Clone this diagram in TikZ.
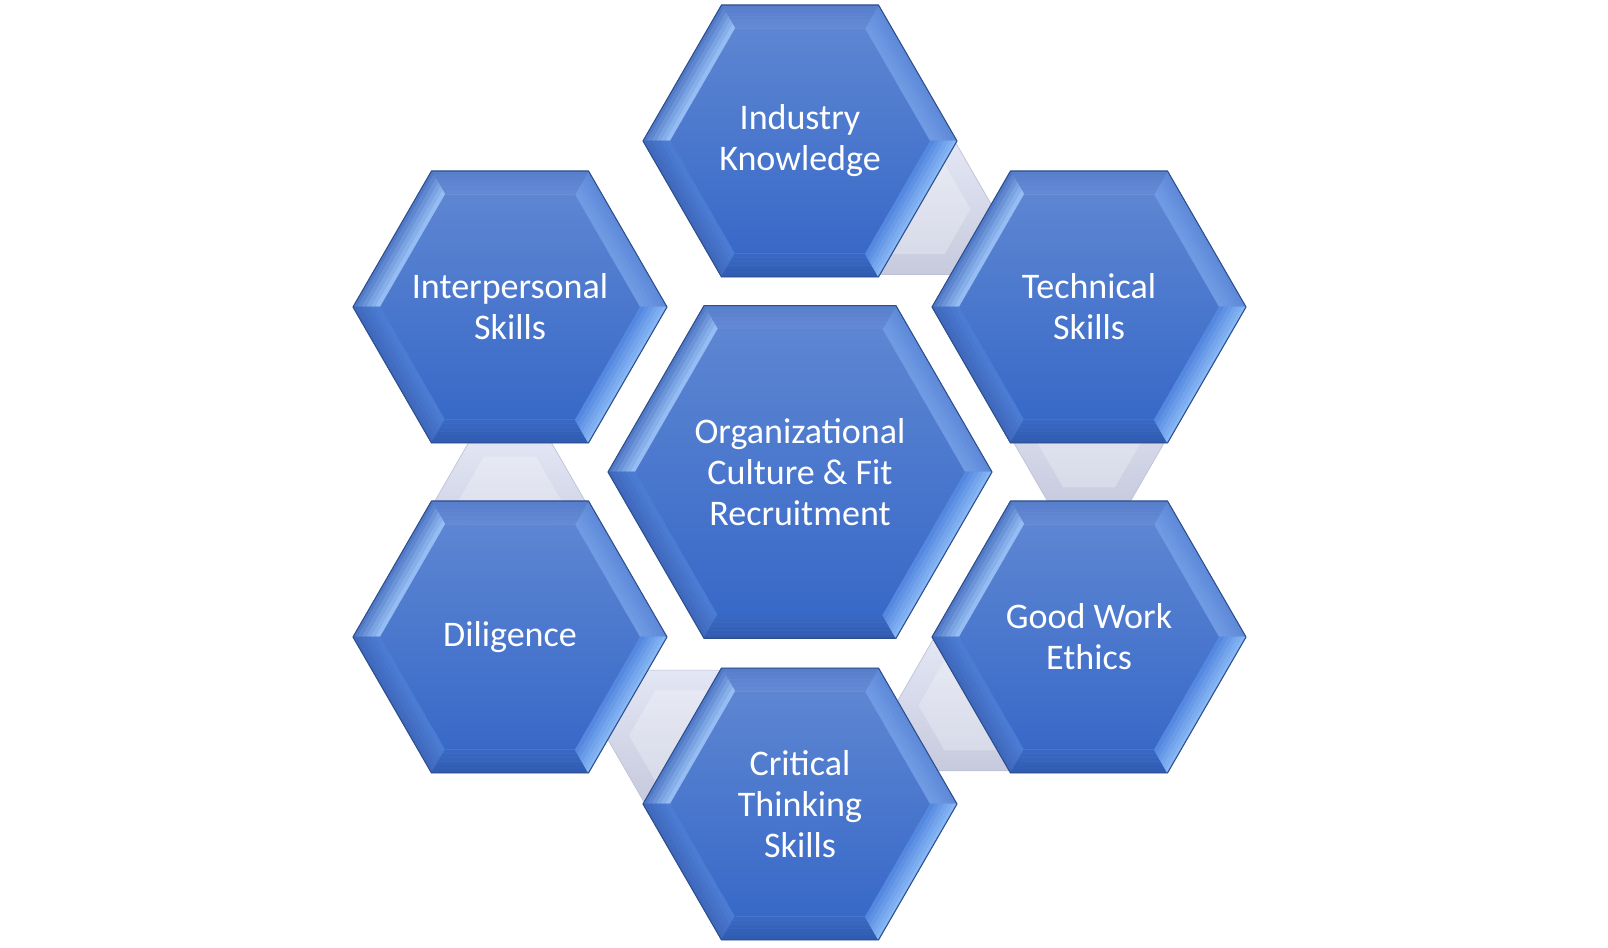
\documentclass[tikz,border=0pt]{standalone}
\usepackage{fontspec}
\setmainfont{Carlito}
\usetikzlibrary{calc}

%bevel colours, outer and inner edge of each facet
\definecolor{urOut}{HTML}{5C88D8}
\definecolor{urIn}{HTML}{729CE4}
\definecolor{tpOut}{HTML}{577ECB}
\definecolor{tpIn}{HTML}{6489D5}
\definecolor{ulOut}{HTML}{4A73C3}
\definecolor{ulIn}{HTML}{9CC4F8}
\definecolor{llOut}{HTML}{3D67BA}
\definecolor{llIn}{HTML}{4D7DD6}
\definecolor{btOut}{HTML}{2F5BB0}
\definecolor{btIn}{HTML}{3A69C4}
\definecolor{lrOut}{HTML}{8CBBF7}
\definecolor{lrIn}{HTML}{5084DE}
\definecolor{faceTop}{HTML}{5D86D2}
\definecolor{faceBot}{HTML}{3869C8}
\definecolor{hexEdge}{HTML}{2E4E8C}
\definecolor{linkTop}{HTML}{E3E6F4}
\definecolor{linkBot}{HTML}{C6CADD}
\definecolor{linkEdge}{HTML}{BEC2D5}

%bevelled hexagon: centre name, radius, text
\newcommand{\bevelhex}[3]{%
  \foreach \a/\oc/\ic in {0/urOut/urIn,60/tpOut/tpIn,120/ulOut/ulIn,180/llOut/llIn,240/btOut/btIn,300/lrOut/lrIn}
    \foreach \k in {0,...,5}
      {
      \pgfmathsetmacro{\ta}{\k/6}
      \pgfmathsetmacro{\tb}{(\k+1)/6}
      \pgfmathtruncatemacro{\pc}{100-(\k+0.5)*100/6}
      \colorlet{strip}{\oc!\pc!\ic}
      \filldraw[strip,line width=0.3pt,line join=round]
        ($(#1)+({\a}:{#2-\ta*27})$) -- ($(#1)+({\a+60}:{#2-\ta*27})$)
        -- ($(#1)+({\a+60}:{#2-\tb*27})$) -- ($(#1)+({\a}:{#2-\tb*27})$) -- cycle;
      }
  \shade[top color=faceTop,bottom color=faceBot]
    ($(#1)+(0:#2-27)$) \foreach \b in {60,120,...,300}{ -- ($(#1)+(\b:#2-27)$)} -- cycle;
  \draw[hexline] ($(#1)+(0:#2)$) \foreach \b in {60,120,...,300}{ -- ($(#1)+(\b:#2)$)} -- cycle;
  \node[hextext] (#1-label) at (#1) {#3};
}

%grey link hexagon between two centres
\newcommand{\linkhex}[2]{%
  \coordinate (#1-#2) at ($(#1)!0.41!(#2)$);
  \shade[top color=linkTop,bottom color=linkBot,draw=linkEdge,line width=0.4pt]
    ($(#1-#2)+(0:75.5)$) \foreach \b in {60,120,...,300}{ -- ($(#1-#2)+(\b:75.5)$)} -- cycle;
  \fill[white,opacity=0.25]
    ($(#1-#2)+(0:52)$) \foreach \b in {60,120,...,300}{ -- ($(#1-#2)+(\b:52)$)} -- cycle;
}

\begin{document}
\begin{tikzpicture}[x=0.2mm,y=0.2mm,
  hexline/.style={draw=hexEdge,line width=0.6pt,line join=round},
  hextext/.style={text=white,align=center,inner sep=0pt,font=\fontsize{20.5}{23.3}\selectfont}]

\useasboundingbox (0,0) rectangle (1608,948);

%hexagon centres
\coordinate (hub) at (800,476);
\coordinate (industry) at (800,807);
\coordinate (technical) at (1089,641);
\coordinate (ethics) at (1089,311);
\coordinate (critical) at (800,144);
\coordinate (diligence) at (510,311);
\coordinate (interpersonal) at (510,641);

%grey links, drawn behind
\foreach \s/\t in {industry/technical,technical/ethics,ethics/critical,critical/diligence,diligence/interpersonal}
	{
	\linkhex{\s}{\t}
	}

%hexagons
\bevelhex{hub}{192}{Organizational\\Culture \& Fit\\Recruitment}
\bevelhex{industry}{157}{Industry\\Knowledge}
\bevelhex{technical}{157}{Technical\\Skills}
\bevelhex{ethics}{157}{Good Work\\Ethics}
\bevelhex{critical}{157}{Critical\\Thinking\\Skills}
\bevelhex{diligence}{157}{Diligence}
\bevelhex{interpersonal}{157}{Interpersonal\\Skills}

\end{tikzpicture}
\end{document}
